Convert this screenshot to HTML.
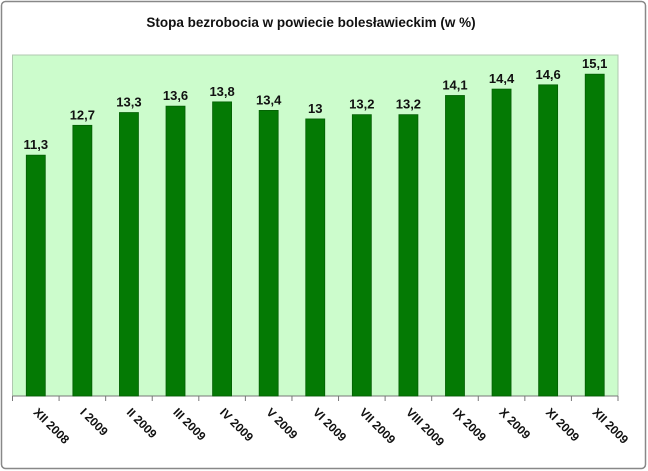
<!DOCTYPE html>
<html><head><meta charset="utf-8"><style>
body{margin:0;background:#fff;}
svg{display:block;font-family:"Liberation Sans",sans-serif;}
</style></head><body>
<svg width="648" height="471">
<rect x="1.5" y="1.5" width="644" height="467" rx="4" fill="#fff" stroke="#888" stroke-width="1.5"/>
<text x="311" y="27" text-anchor="middle" font-size="13.5" font-weight="bold" fill="#111">Stopa bezrobocia w powiecie bolesławieckim (w %)</text>
<rect x="12.5" y="55" width="605.5" height="341" fill="#ccfccc" stroke="#b0c8b0" stroke-width="1"/>
<g id="marks"></g>
</svg>
<script>
const categories=["XII 2008","I 2009","II 2009","III 2009","IV 2009","V 2009","VI 2009","VII 2009","VIII 2009","IX 2009","X 2009","XI 2009","XII 2009"];
const values=[11.3,12.7,13.3,13.6,13.8,13.4,13,13.2,13.2,14.1,14.4,14.6,15.1];
const valueLabels=["11,3","12,7","13,3","13,6","13,8","13,4","13","13,2","13,2","14,1","14,4","14,6","15,1"];
const yMin=0,yMax=16;
const L=12.5,R=618,T=55,B=396;
const step=(R-L)/categories.length;
const x=i=>L+step*i;
const y=v=>B-(v-yMin)/(yMax-yMin)*(B-T);
const g=document.getElementById('marks');
const NS="http://www.w3.org/2000/svg";
function mk(t,a){const e=document.createElementNS(NS,t);for(const k in a)e.setAttribute(k,a[k]);g.appendChild(e);return e;}
const ax=mk('line',{x1:L,y1:B,x2:R,y2:B,stroke:'#777'});


categories.forEach((c,i)=>{
  const bw=19,cx=x(i)+step/2;
  const b=mk('rect',{x:cx-bw/2,y:y(values[i]),width:bw,height:B-y(values[i]),fill:'#047a04',stroke:'#035e03','stroke-width':0.8});
  
  
  const vl=mk('text',{x:cx,y:y(values[i])-6,'text-anchor':'middle','font-size':'13','font-weight':'bold',fill:'#111'});
  vl.textContent=valueLabels[i];
  
  
  const tk=mk('line',{x1:x(i),y1:B,x2:x(i),y2:B+5,stroke:'#777'});
  
  
  const tl=mk('text',{x:cx-3,y:B+17,'font-size':'12','font-weight':'bold',fill:'#111',transform:`rotate(45 ${cx-3} ${B+17})`});
  tl.textContent=c;
  
  
});
const tk=mk('line',{x1:R,y1:B,x2:R,y2:B+5,stroke:'#777'});


</script>
</body></html>
